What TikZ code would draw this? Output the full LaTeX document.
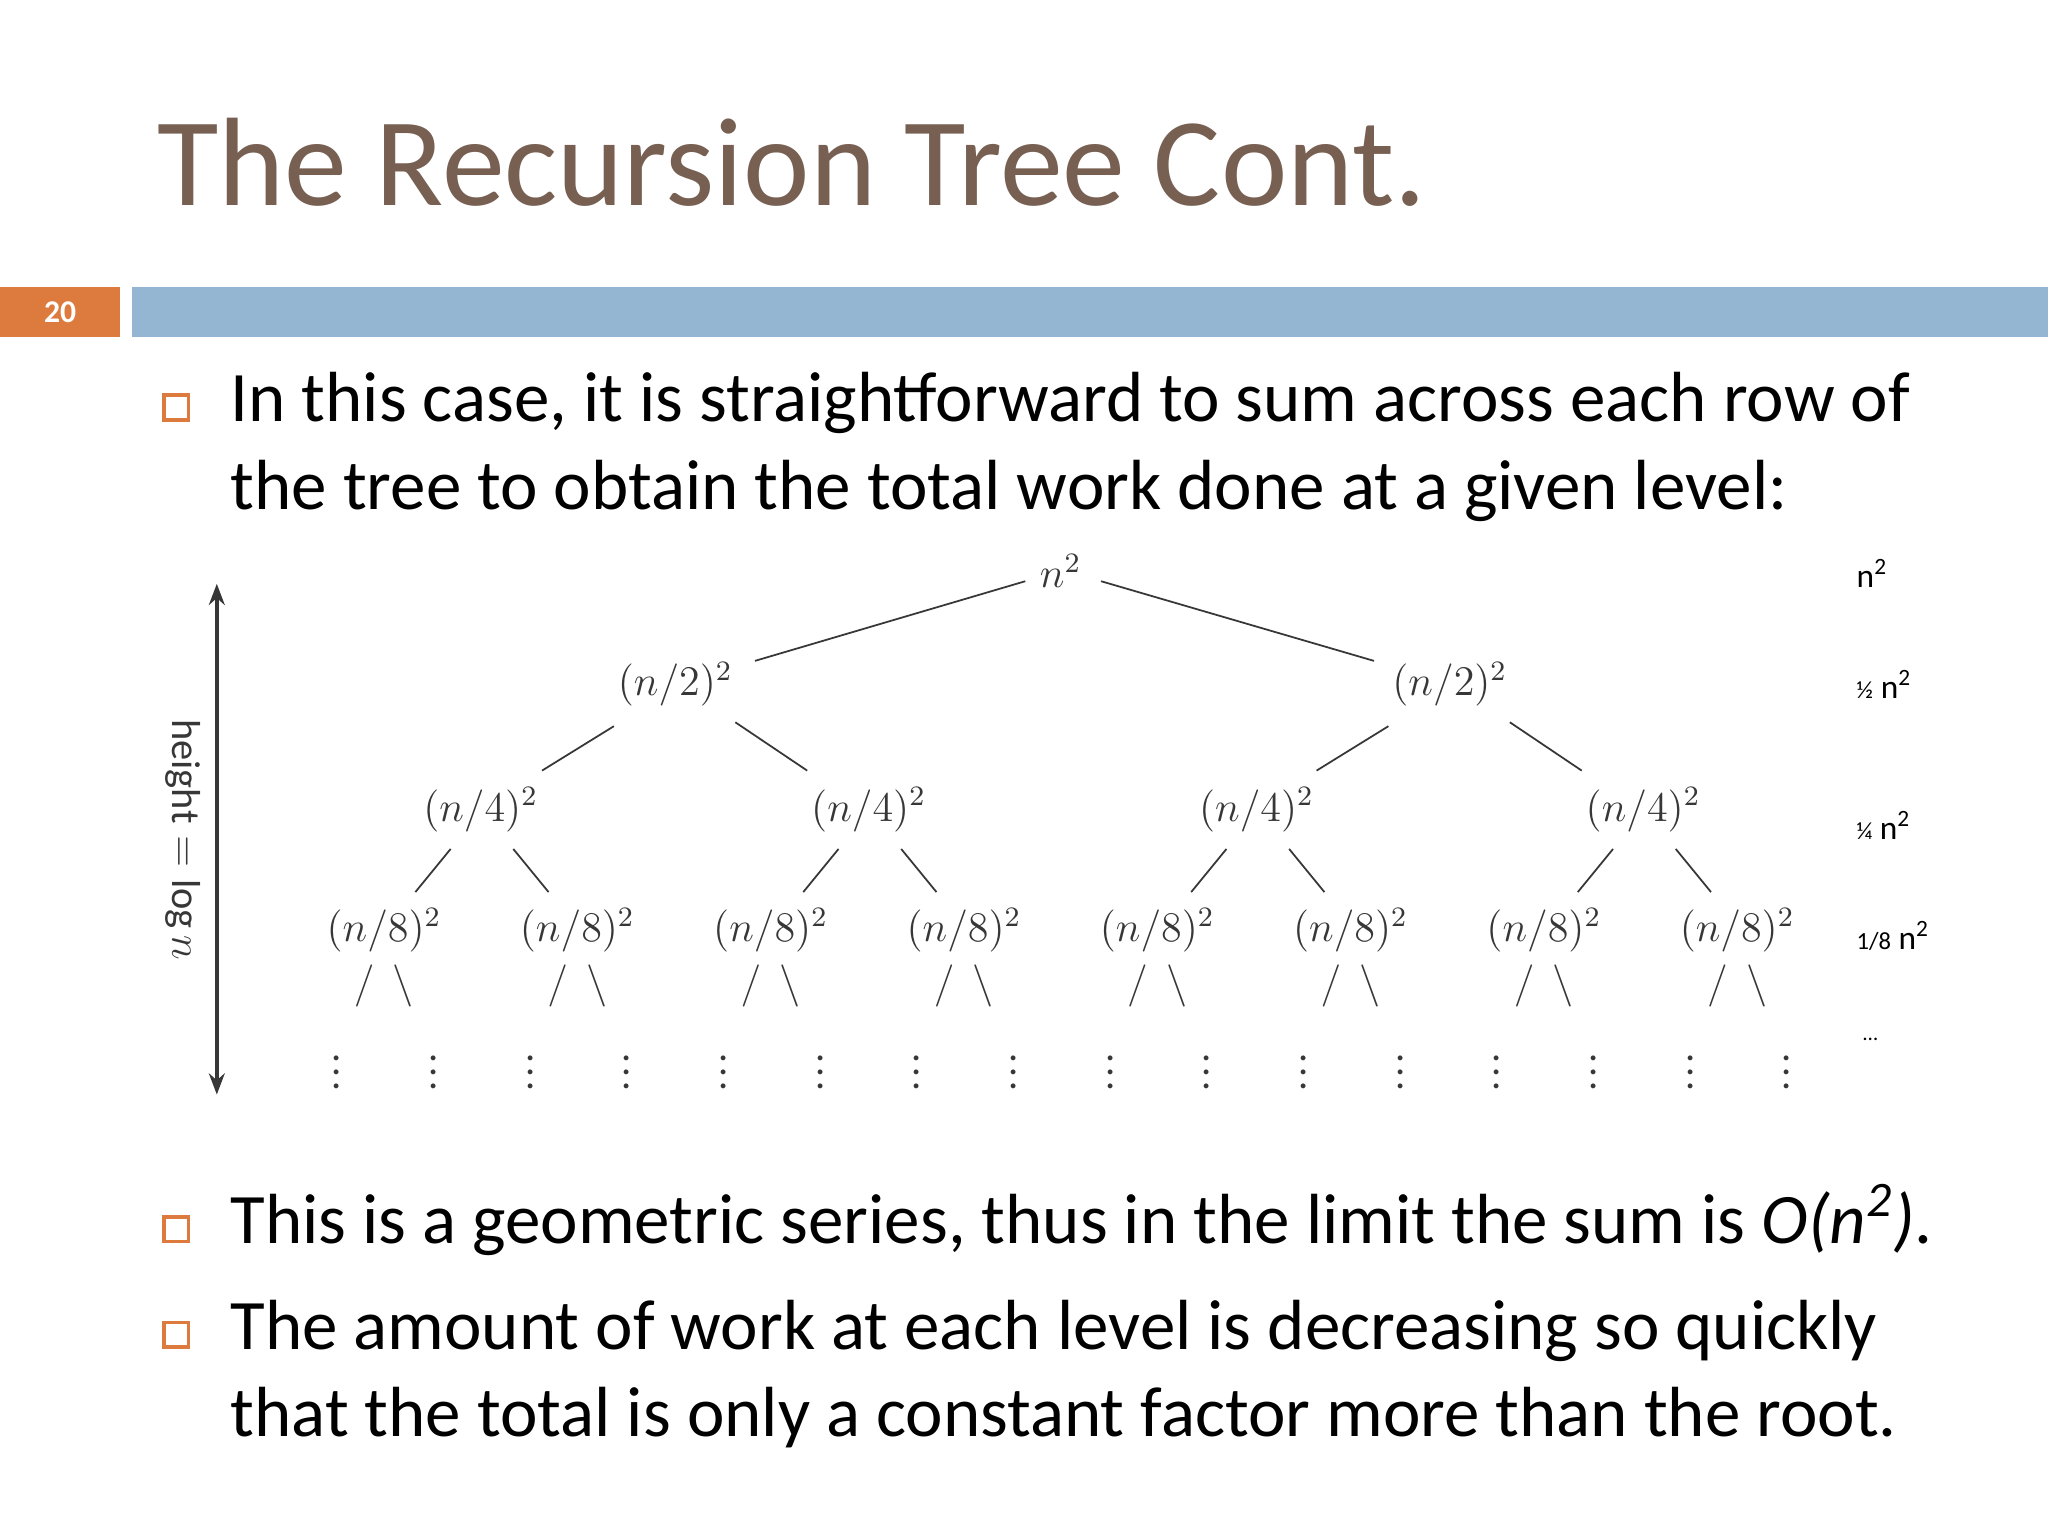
\documentclass[tikz,border=0pt]{standalone}
\usepackage{fontspec}
\setmainfont{Carlito}
\usetikzlibrary{arrows.meta}
\definecolor{titlec}{RGB}{119,95,82}
\definecolor{barblue}{RGB}{148,182,210}
\definecolor{barorange}{RGB}{221,123,62}
\definecolor{treegray}{RGB}{55,55,55}
\begin{document}
\begin{tikzpicture}[x=0.013061cm,y=-0.013061cm,
  body/.style={anchor=base west,inner sep=0,font=\fontsize{20.2}{24}\selectfont},
  bul/.style={draw=barorange,line width=1pt,minimum size=7pt,inner sep=0},
  tn/.style={inner sep=0pt,text=treegray,font=\fontsize{11.5}{13}\selectfont},
  tl/.style={draw=treegray,line width=0.5pt},
  side/.style={anchor=base west,inner sep=0,font=\fontsize{9.5}{11}\selectfont}]
\useasboundingbox (0,0) rectangle (1568,1176);
\fill[white] (0,0) rectangle (1568,1176);
\node[anchor=base west,inner sep=0,text=titlec,font=\fontsize{35.8}{42}\selectfont] (title) at (120,157) {The Recursion Tree Cont.};
\fill[barorange] (0,220) rectangle (92,258);
\node[text=white,font=\bfseries\fontsize{9}{10}\selectfont] (pg) at (46,239) {20};
\fill[barblue] (101,220) rectangle (1568,258);
% bullets
\node[bul] (b1) at (135,312) {};
\node[body] (t1) at (176,323) {In this case, it is straightforward to sum across each row of};
\node[body] (t1b) at (176,390) {the tree to obtain the total work done at a given level:};
\node[bul] (b2) at (135,941) {};
\node[body] (t2) at (176,952) {This is a geometric series, thus in the limit the sum is \textit{O(n\textsuperscript{2})}.};
\node[bul] (b3) at (135,1022) {};
\node[body] (t3) at (176,1033) {The amount of work at each level is decreasing so quickly};
\node[body] (t3b) at (176,1100) {that the total is only a constant factor more than the root.};
% tree
\node[tn] (r) at (812,437) {$n^2$};
\node[tn] (a1) at (517,524) {$(n/2)^2$};
\node[tn] (a2) at (1110,524) {$(n/2)^2$};
\foreach \i/\x in {1/368,2/665,3/962,4/1258}{\node[tn] (c\i) at (\x,620) {$(n/4)^2$};}
\foreach \i/\x in {1/294,2/442,3/590,4/738,5/886,6/1034,7/1182,8/1330}{
  \node[tn] (d\i) at (\x,712) {$(n/8)^2$};
  \node[tn] (s\i) at (\x,755) {$/\ \ \backslash$};
  \node[tn] (pl\i) at (\x-36,813) {$\vdots$};
  \node[tn] (pr\i) at (\x+38,813) {$\vdots$};}
\draw[tl] (785,445) -- (578,506);
\draw[tl] (843,445) -- (1052,506);
\foreach \x in {517,1110}{
  \draw[tl] (\x-47,556) -- (\x-102,590);
  \draw[tl] (\x+46,553) -- (\x+101,590);}
\foreach \x in {368,665,962,1258}{
  \draw[tl] (\x-23,650) -- (\x-50,683);
  \draw[tl] (\x+25,650) -- (\x+52,683);}
% height arrow
\coordinate (ht) at (166,447);
\coordinate (hb) at (166,838);
\draw[treegray,line width=1pt,{Stealth[length=6pt]}-{Stealth[length=6pt]}] (ht) -- (hb);
\node[tn,rotate=-90] (hl) at (140,643) {$\mathrm{height}=\log n$};
% side labels
\node[side] (l0) at (1421,450) {n\textsuperscript{2}};
\node[side] (l1) at (1421,535) {{\fontsize{7}{8}\selectfont ½} n\textsuperscript{2}};
\node[side] (l2) at (1421,643) {{\fontsize{7}{8}\selectfont ¼} n\textsuperscript{2}};
\node[side] (l3) at (1421,727) {{\fontsize{7}{8}\selectfont 1/8} n\textsuperscript{2}};
\node[side] (l4) at (1426,797) {{\fontsize{6}{7}\selectfont …}};
\end{tikzpicture}
\end{document}
